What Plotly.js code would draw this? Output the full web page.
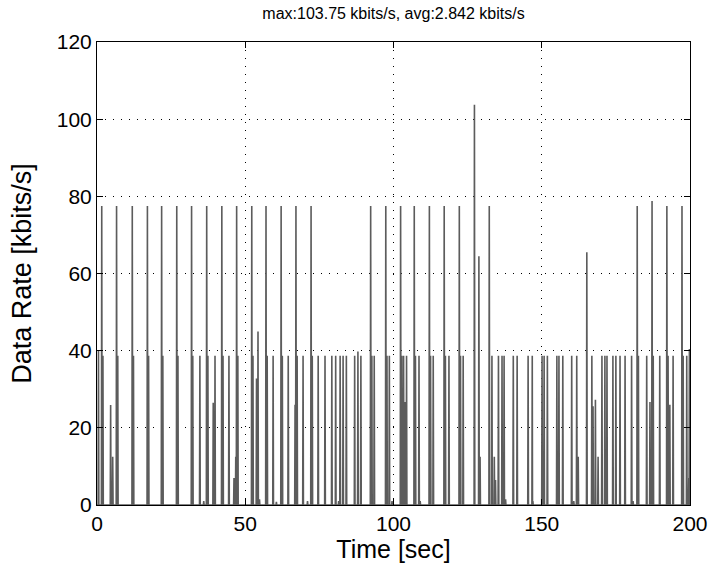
<!DOCTYPE html>
<html>
<head>
<meta charset="utf-8">
<script src="https://cdn.plot.ly/plotly-3.0.1.min.js"></script>
<style>html,body{margin:0;padding:0;background:#fff}#chart{width:712px;height:574px}</style>
</head>
<body>
<div id="chart"></div>
<script>
// Periodic high-rate bursts (kbits/s)
var burstTimes = [1.6, 6.6, 11.9, 17.0, 21.8, 26.9, 31.9, 37.0, 42.1, 47.1, 52.2, 57.0, 62.1, 67.1, 72.2,
  92.3, 97.4, 102.4, 107.0, 112.1, 117.1, 122.2, 127.3, 128.8, 132.3, 165.2, 182.2, 187.2, 192.2, 197.3];
var burstRates = [77.5, 77.5, 77.5, 77.5, 77.5, 77.5, 77.5, 77.5, 77.5, 77.5, 77.5, 77.5, 77.5, 77.5, 77.5,
  77.5, 77.5, 77.5, 77.5, 77.5, 77.5, 77.5, 103.75, 64.5, 77.5, 65.5, 77.5, 78.8, 77.5, 77.5];

// Medium bursts (~39 kbits/s)
var midTimes = [0.5, 2.0, 7.0, 12.3, 17.4, 22.2, 27.3, 32.3, 34.7, 37.4, 39.8, 42.5, 44.5, 47.5, 52.6, 57.4,
  59.4, 62.5, 64.5, 67.5, 69.5, 72.6, 74.6, 76.9, 79.2, 80.5, 82.0, 83.0, 84.1, 86.9, 88.0, 89.0, 92.7, 93.5,
  97.8, 98.6, 102.8, 103.4, 104.4, 107.4, 108.6, 112.5, 113.4, 117.5, 118.7, 122.6, 123.5, 133.2, 135.4,
  136.6, 137.3, 140.4, 141.7, 145.4, 146.8, 150.1, 150.8, 151.9, 155.1, 155.8, 157.1, 160.1, 161.8, 166.9,
  170.3, 171.3, 172.0, 174.0, 175.0, 176.4, 178.1, 180.3, 182.6, 185.4, 187.6, 189.8, 192.6, 194.3, 197.7,
  198.9, 199.8];
var midRates = [40.0, 38.7, 38.7, 38.7, 38.7, 38.7, 38.7, 38.7, 38.7, 38.7, 38.7, 38.7, 38.7, 38.7, 38.7, 38.7,
  38.7, 38.7, 38.7, 38.7, 38.7, 38.7, 38.7, 38.7, 38.7, 38.7, 38.7, 38.7, 38.7, 38.7, 39.8, 38.7, 38.7, 38.7,
  38.7, 38.7, 38.7, 38.7, 38.7, 38.7, 38.7, 38.7, 38.7, 38.7, 38.7, 38.7, 38.7, 38.7, 38.7,
  38.7, 38.7, 38.7, 38.7, 38.7, 38.7, 38.7, 38.7, 38.7, 38.7, 38.7, 38.7, 38.7, 38.7, 38.7,
  38.7, 38.7, 38.7, 38.7, 38.7, 38.7, 38.7, 38.7, 38.7, 38.7, 38.7, 38.7, 38.7, 38.7, 38.7,
  38.7, 40.4];

// Low-rate bursts
var lowTimes = [4.6, 5.3, 36.0, 39.2, 46.2, 46.8, 53.8, 54.3, 54.8, 60.5, 66.8, 71.0, 81.5, 99.5, 103.9, 109.0,
  129.2, 134.0, 134.4, 137.8, 147.0, 160.8, 162.3, 167.3, 168.1, 169.0, 180.8, 186.5, 192.7, 193.2, 197.7, 199.6];
var lowRates = [25.9, 12.5, 1.0, 26.5, 7.0, 12.5, 32.8, 45.0, 1.5, 0.8, 26.0, 1.0, 1.0, 1.0, 26.7, 1.0,
  12.5, 12.5, 6.5, 1.5, 1.0, 1.0, 12.5, 25.6, 27.3, 12.5, 1.0, 26.7, 13.8, 26.0, 13.0, 7.0];

var xTicks = [0, 50, 100, 150, 200];
var yTicks = [0, 20, 40, 60, 80, 100, 120];

// Build a single time series: zero baseline with a narrow spike at each event
var events = [];
function addEvents(ts, vs) { for (var i = 0; i < ts.length; i++) events.push([ts[i], vs[i]]); }
addEvents(burstTimes, burstRates);
addEvents(midTimes, midRates);
addEvents(lowTimes, lowRates);
events.sort(function (a, b) { return a[0] - b[0]; });
var xs = [0], ys = [0];
var hw = 0.12;
events.forEach(function (e) {
  xs.push(e[0] - hw); ys.push(0);
  xs.push(e[0]); ys.push(e[1]);
  xs.push(e[0] + hw); ys.push(0);
});
xs.push(200); ys.push(0);

var trace = {
  x: xs, y: ys, type: 'scatter', mode: 'lines',
  line: {color: '#5c5c5c', width: 1.6},
  hoverinfo: 'skip'
};

var axisCommon = {
  showline: true, linecolor: '#000', linewidth: 1, mirror: 'ticks',
  ticks: 'inside', ticklen: 6, tickcolor: '#000', tickwidth: 1,
  showgrid: true, gridcolor: '#000', gridwidth: 1, griddash: '1px,7px',
  zeroline: false, tickfont: {size: 21, color: '#000'}
};

var layout = {
  width: 712, height: 574,
  margin: {l: 97, r: 22, t: 42, b: 69},
  paper_bgcolor: '#fff', plot_bgcolor: '#fff',
  font: {family: 'Liberation Sans, Arial, sans-serif', color: '#000'},
  showlegend: false,
  title: {text: 'max:103.75 kbits/s, avg:2.842 kbits/s', font: {size: 16, color: '#000'},
    x: 0.5, xref: 'paper', y: 1 - 13 / 574, yref: 'container', yanchor: 'middle'},
  xaxis: Object.assign({}, axisCommon, {
    range: [0, 200], tickmode: 'array', tickvals: xTicks, ticktext: xTicks.map(String),
    title: {text: 'Time [sec]', font: {size: 25, color: '#000'}, standoff: 5}
  }),
  yaxis: Object.assign({}, axisCommon, {
    range: [0, 120], tickmode: 'array', tickvals: yTicks, ticktext: yTicks.map(String),
    title: {text: 'Data Rate [kbits/s]', font: {size: 27, color: '#000'}, standoff: 17}
  })
};

Plotly.newPlot('chart', [trace], layout, {displayModeBar: false, staticPlot: true});
</script>
</body>
</html>
